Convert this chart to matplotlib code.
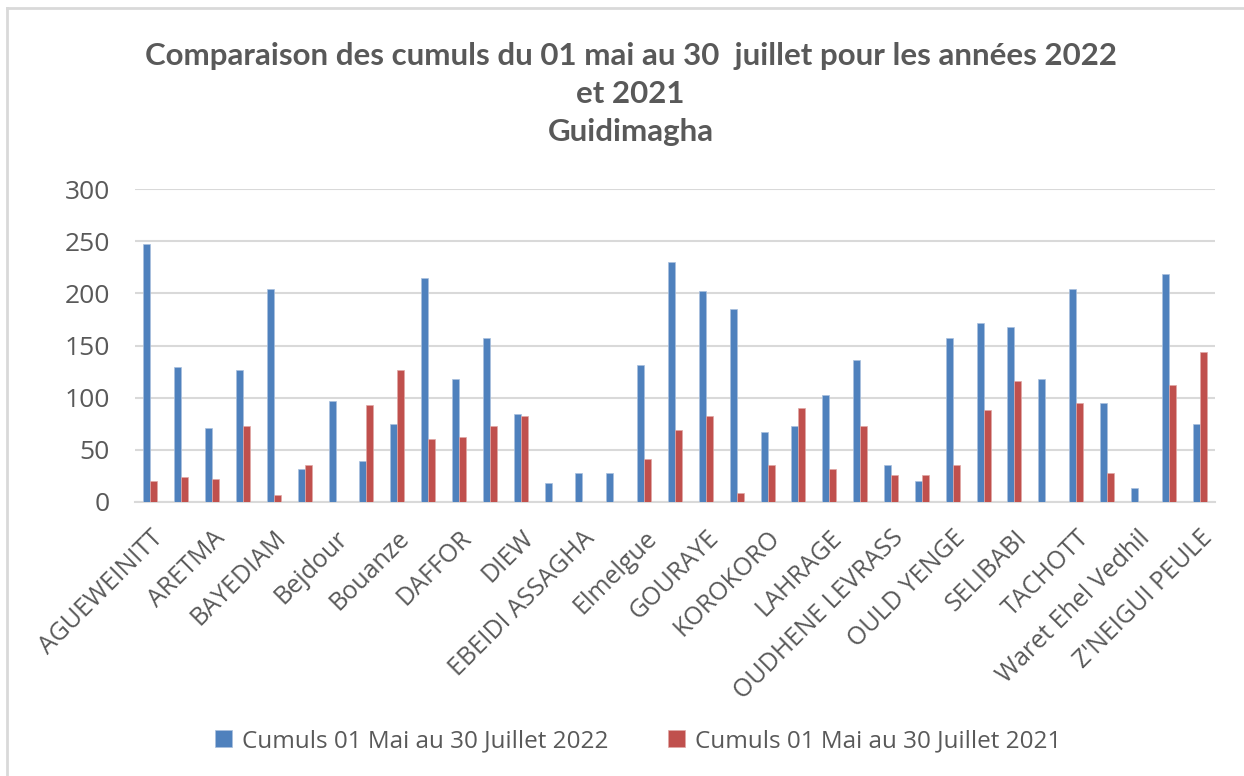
import matplotlib.pyplot as plt
import numpy as np

# stations (only every other name is printed on the axis, as in the original)
stations = [
    "AGUEWEINITT", "AJAR", "ARETMA", "ARR", "BAYEDIAM", "BEDINKI", "Bejdour",
    "BOKHOL", "Bouanze", "BOULLY", "DAFFOR", "DIAGUILY", "DIEW", "DOLOL CIVE",
    "EBEIDI ASSAGHA", "ECHBABE", "Elmelgue", "GHABOU", "GOURAYE",
    "HASSI CHEGGAR", "KOROKORO", "KOUNDEL", "LAHRAGE", "MOUKHTAR",
    "OUDHENE LEVRASS", "OULD ABDALLAH", "OULD YENGE", "SAGNE", "SELIBABI",
    "SOUVI", "TACHOTT", "TEKTAKE", "Waret Ehel Vedhil", "WOMPOU",
    "Z'NEIGUI PEULE",
]

cumul_2022 = [247, 129, 71, 127, 204, 32, 97, 39, 75, 215, 118, 157, 84, 18,
              28, 28, 131, 230, 202, 185, 67, 73, 103, 136, 35, 20, 157, 172,
              168, 118, 204, 95, 13, 219, 75]
cumul_2021 = [20, 24, 22, 73, 7, 35, 0, 93, 127, 60, 62, 73, 82, 0,
              0, 0, 41, 69, 82, 9, 35, 90, 32, 73, 26, 26, 35, 88,
              116, 0, 95, 28, 0, 112, 144]

label_2022 = "Cumuls 01 Mai au 30 Juillet 2022"
label_2021 = "Cumuls 01 Mai au 30 Juillet 2021"

BLUE = "#4F81BD"
RED = "#C0504D"
GREY = "#595959"
FONT = ["Open Sans", "DejaVu Sans"]

fig = plt.figure(figsize=(12.44, 7.76), dpi=100)
ax = fig.add_axes([0.1085, 0.3531, 0.8682, 0.4033])

x = np.arange(len(stations))
w = 0.225
ax.bar(x - w / 2, cumul_2022, w, color=BLUE, edgecolor="#A9C0DE",
       linewidth=0.5, label=label_2022, zorder=3)
ax.bar(x + w / 2, cumul_2021, w, color=RED, edgecolor="#E0A8A6",
       linewidth=0.5, label=label_2021, zorder=3)

ax.set_xlim(-0.5, len(stations) - 0.5)
ax.set_ylim(0, 300)
ax.set_yticks(range(0, 301, 50))
ax.yaxis.grid(True, color="#D9D9D9", linewidth=1.5, zorder=0)
for s in ["top", "right", "left"]:
    ax.spines[s].set_visible(False)
ax.spines["bottom"].set_color("#D9D9D9")
ax.spines["bottom"].set_linewidth(1.5)
ax.tick_params(axis="both", length=0, colors=GREY)
ax.tick_params(axis="y", pad=18, labelsize=19)
for t in ax.get_yticklabels():
    t.set_family(FONT)

ax.set_xticks(x[::2])
ax.set_xticklabels(stations[::2], rotation=45, ha="right", va="top",
                   rotation_mode="anchor", family=FONT, fontsize=18,
                   color=GREY)
ax.tick_params(axis="x", pad=17)

fig.text(0.507, 0.879, "Comparaison des cumuls du 01 mai au 30  juillet pour les années 2022\net 2021\nGuidimagha",
         ha="center", va="center", fontsize=22.5, fontweight="bold",
         color=GREY, family=["Lato", "DejaVu Sans"], linespacing=1.45)

leg = fig.legend(loc="center", bbox_to_anchor=(0.513, 0.045), ncol=2,
                 frameon=False, handlelength=0.7, handleheight=0.7,
                 columnspacing=2.43, handletextpad=0.4,
                 prop={"family": FONT, "size": 17.5})
for t in leg.get_texts():
    t.set_color(GREY)

# chart frame (only its top and left edges fall inside the picture)
fig.add_artist(plt.Line2D([7 / 1244, 7 / 1244], [0, 1 - 8 / 776],
                          color="#D9D9D9", linewidth=2))
fig.add_artist(plt.Line2D([7 / 1244, 1], [1 - 8 / 776, 1 - 8 / 776],
                          color="#D9D9D9", linewidth=2))

fig.savefig("out.png", dpi=100)
